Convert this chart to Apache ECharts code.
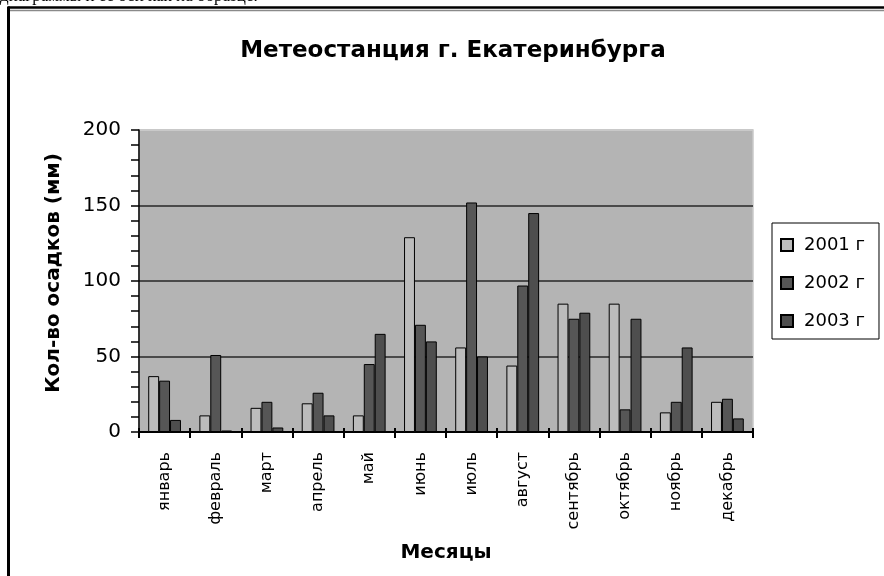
<!DOCTYPE html>
<html>
<head>
<meta charset="utf-8">
<script src="https://cdn.jsdelivr.net/npm/echarts@6/dist/echarts.min.js"></script>
<style>
  html, body { margin: 0; padding: 0; background: #fff; }
  #chart { width: 884px; height: 576px; }
</style>
</head>
<body>
<div id="chart"></div>
<script>
// Monthly precipitation, mm
const months = ['январь', 'февраль', 'март', 'апрель', 'май', 'июнь',
                'июль', 'август', 'сентябрь', 'октябрь', 'ноябрь', 'декабрь'];
const seriesNames = ['2001 г', '2002 г', '2003 г'];
const rain2001 = [37, 11, 16, 19, 11, 129, 56, 44, 85, 85, 13, 20];
const rain2002 = [34, 51, 20, 26, 45, 71, 152, 97, 75, 15, 20, 22];
const rain2003 = [8, 1, 3, 11, 65, 60, 50, 145, 79, 75, 56, 9];
const yTicks = { min: 0, max: 200, step: 50 };

const FONT = '"DejaVu Sans", Verdana, sans-serif';
const barColors = ['#bcbcbc', '#565656', '#4e4e4e'];
const rainData = [rain2001, rain2002, rain2003];

const chart = echarts.init(document.getElementById('chart'), null, { renderer: 'canvas' });

const series = seriesNames.map((name, i) => ({
  name: name,
  type: 'bar',
  xAxisIndex: 0,
  data: rainData[i],
  barGap: '0%',
  barCategoryGap: '36%',
  itemStyle: { color: barColors[i], borderColor: '#000', borderWidth: 1 },
  emphasis: { disabled: true }
}));

chart.setOption({
  animation: false,
  backgroundColor: '#fff',
  textStyle: { fontFamily: FONT },
  title: {
    text: 'Метеостанция г. Екатеринбурга',
    left: 453,
    top: 40,
    textAlign: 'center',
    padding: 0,
    textStyle: { fontFamily: FONT, fontSize: 23, fontWeight: 'bold', color: '#000' }
  },
  legend: {
    orient: 'vertical',
    left: 772,
    top: 223,
    padding: [12, 14, 8, 8],
    itemGap: 18,
    itemWidth: 12,
    itemHeight: 12,
    icon: 'rect',
    borderColor: '#000',
    borderWidth: 1,
    backgroundColor: '#fff',
    data: seriesNames,
    textStyle: { fontFamily: FONT, fontSize: 18, lineHeight: 20, color: '#000', padding: [0, 0, 0, 6] }
  },
  grid: {
    left: 139, right: 131, top: 130, bottom: 144,
    show: true,
    backgroundColor: '#b4b4b4',
    borderColor: '#c9c9c9',
    borderWidth: 1.5
  },
  xAxis: [{
    type: 'category',
    data: months,
    axisLine: { lineStyle: { color: '#000', width: 1.5 } },
    axisTick: { show: true, interval: 0, length: 6, lineStyle: { color: '#000', width: 2 } },
    axisLabel: { interval: 0, rotate: 90, margin: 20, fontSize: 16, color: '#000', fontFamily: FONT }
  }, {
    // inner half of the crossing tick marks, one per category boundary
    type: 'value',
    position: 'bottom',
    min: 0,
    max: months.length,
    interval: 1,
    axisLine: { show: false },
    axisTick: { show: true, inside: true, length: 4, lineStyle: { color: '#000', width: 2 } },
    axisLabel: { show: false },
    splitLine: { show: false }
  }],
  yAxis: {
    type: 'value',
    min: yTicks.min,
    max: yTicks.max,
    interval: yTicks.step,
    axisLine: { show: true, lineStyle: { color: '#000', width: 1.5 } },
    axisTick: { show: true, length: 8, lineStyle: { color: '#000', width: 1.5 } },
    minorTick: { show: true, splitNumber: 5, length: 8, lineStyle: { color: '#000', width: 1.5 } },
    splitLine: { show: true, lineStyle: { color: ['#000', '#4a4a4a', '#4a4a4a', '#4a4a4a', '#c9c9c9'], width: 1.8 } },
    axisLabel: { fontSize: 20, margin: 18, color: '#000', fontFamily: FONT }
  },
  series: series,
  graphic: [
    // Document line above the chart frame (partly cut off at the top)
    { type: 'text', left: 0, top: -12, silent: true,
      style: { text: 'диаграммы и ее оси как на образце.', font: '17px "Liberation Serif", "Times New Roman", serif', fill: '#000' } },
    // Frame around the chart
    { type: 'line', silent: true, shape: { x1: 8, y1: 7.5, x2: 884, y2: 7.5 }, style: { stroke: '#000', lineWidth: 2.5 } },
    { type: 'line', silent: true, shape: { x1: 10, y1: 10.5, x2: 884, y2: 10.5 }, style: { stroke: '#8a8a8a', lineWidth: 1.5 } },
    { type: 'line', silent: true, shape: { x1: 8.5, y1: 6.5, x2: 8.5, y2: 576 }, style: { stroke: '#000', lineWidth: 3 } },
    // Axis titles
    { type: 'text', x: 54, y: 273, rotation: Math.PI / 2, silent: true,
      style: { text: 'Кол-во осадков (мм)', font: 'bold 20px "DejaVu Sans", Verdana, sans-serif', fill: '#000',
               align: 'center', verticalAlign: 'middle' } },
    { type: 'text', x: 446, y: 553, silent: true,
      style: { text: 'Месяцы', font: 'bold 20px "DejaVu Sans", Verdana, sans-serif', fill: '#000',
               align: 'center', verticalAlign: 'middle' } }
  ]
});
</script>
</body>
</html>
